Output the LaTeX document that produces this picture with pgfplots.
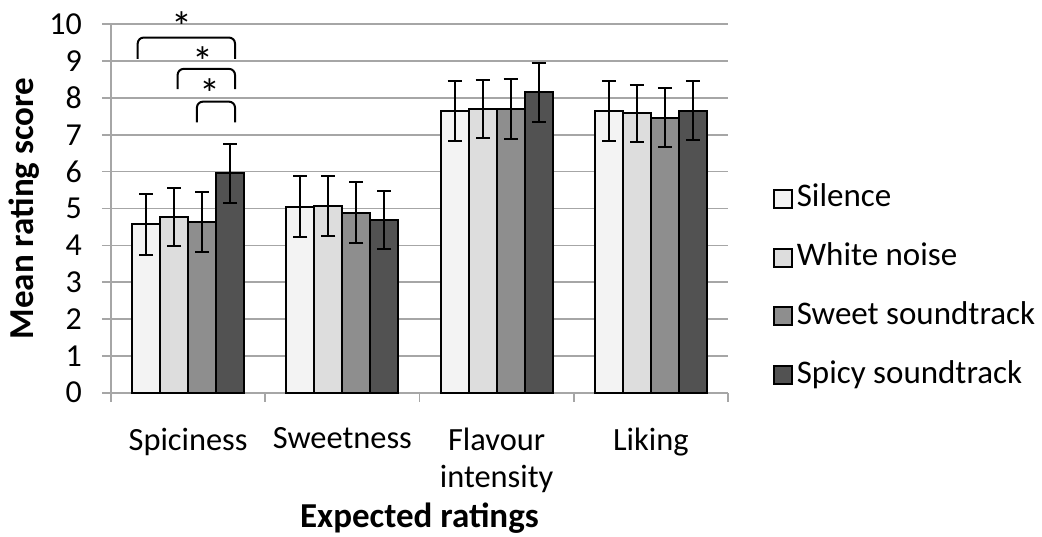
\documentclass[border=0pt]{standalone}
\usepackage{fontspec}
\setmainfont{Carlito}
\usepackage{pgfplots}
\usepackage{pgfplotstable}
\pgfplotsset{compat=1.18}

\definecolor{cSil}{HTML}{F3F3F3}
\definecolor{cWhi}{HTML}{DDDDDD}
\definecolor{cSwe}{HTML}{8E8E8E}
\definecolor{cSpi}{HTML}{525252}
\definecolor{gridgray}{HTML}{A6A6A6}

% mean and error per condition, one row per rating
\pgfplotstableread{
cat s    se   w    we   sw   swe  sp   spe
0   4.57 0.82 4.76 0.79 4.63 0.81 5.96 0.80
1   5.05 0.82 5.07 0.81 4.89 0.82 4.69 0.78
2   7.65 0.82 7.71 0.79 7.71 0.81 8.15 0.79
3   7.65 0.82 7.58 0.77 7.47 0.81 7.65 0.80
}\ratings

\begin{document}
\begin{tikzpicture}
\useasboundingbox (-55.5pt,-71.65pt) rectangle (465.5pt,196.35pt);
\begin{axis}[
  at={(0pt,0pt)}, anchor=south west,
  scale only axis, width=308.5pt, height=184.2pt,
  ybar=0pt, bar width=14pt,
  xmin=-0.5, xmax=3.5, ymin=0, ymax=10,
  ytick={0,1,...,10},
  xtick={0,1,2,3},
  xticklabels={Spiciness,Sweetness,{Flavour\\intensity},Liking},
  xticklabel style={align=center, yshift=-9.5pt, font=\fontsize{16.2}{18.5}\selectfont},
  minor xtick={-0.5,0.5,1.5,2.5,3.5},
  axis x line*=bottom, axis y line*=left,
  axis line style={draw=gridgray, line width=0.8pt, -},
  ymajorgrids, grid style={gridgray, line width=0.8pt},
  tick align=outside,
  major tick length=4.5pt, minor tick length=4.5pt,
  tick style={gridgray, line width=0.8pt},
  major x tick style={draw=none},
  yticklabel style={xshift=-6.5pt, font=\fontsize{16}{17}\selectfont},
  /pgf/number format/assume math mode=true,
  xlabel={Expected ratings}, ylabel={Mean rating score},
  label style={font=\bfseries\fontsize{17.5}{19}\selectfont},
  xlabel style={at={(axis description cs:0.5,-0.367)}, anchor=base},
  ylabel style={at={(axis description cs:-0.141,0.5)}, anchor=center},
  legend style={at={(1.072,0.287)}, anchor=west, draw=none, fill=none,
    inner sep=0pt, row sep=13.35pt,
    font=\fontsize{16.5}{19}\selectfont,
    nodes={inner sep=1pt, inner xsep=2pt, text height=11pt, text depth=3pt}},
  legend cell align=left,
  legend image code/.code={\draw[#1, draw=black, line width=1pt] (0pt,-4.5pt) rectangle (9pt,4.5pt);},
  clip=false,
  every axis plot/.append style={draw=black, line width=1pt,
    error bars/y dir=both, error bars/y explicit,
    error bars/error bar style={line width=1pt, black},
    error bars/error mark options={rotate=90, mark size=3.5pt, line width=1pt, black}},
]
\addplot[fill=cSil] table[x=cat, y=s, y error=se] {\ratings};
\addplot[fill=cWhi] table[x=cat, y=w, y error=we] {\ratings};
\addplot[fill=cSwe] table[x=cat, y=sw, y error=swe] {\ratings};
\addplot[fill=cSpi] table[x=cat, y=sp, y error=spe] {\ratings};
\legend{Silence,White noise,Sweet soundtrack,Spicy soundtrack}

% significance brackets
\draw[black, line width=1pt, rounded corners=3pt] (axis cs:-0.327,9.06) -- (axis cs:-0.327,9.64) -- (axis cs:0.304,9.64) -- (axis cs:0.304,9.06);
\draw[black, line width=1pt, rounded corners=3pt] (axis cs:-0.068,8.24) -- (axis cs:-0.068,8.79) -- (axis cs:0.304,8.79) -- (axis cs:0.304,8.24);
\draw[black, line width=1pt, rounded corners=3pt] (axis cs:0.057,7.34) -- (axis cs:0.057,7.90) -- (axis cs:0.304,7.90) -- (axis cs:0.304,7.34);
\node[font=\fontsize{21}{22}\selectfont, inner sep=0pt] at (axis cs:-0.04,9.95) {*};
\node[font=\fontsize{21}{22}\selectfont, inner sep=0pt] at (axis cs:0.096,9.0) {*};
\node[font=\fontsize{21}{22}\selectfont, inner sep=0pt] at (axis cs:0.142,8.13) {*};
\end{axis}
\end{tikzpicture}
\end{document}
